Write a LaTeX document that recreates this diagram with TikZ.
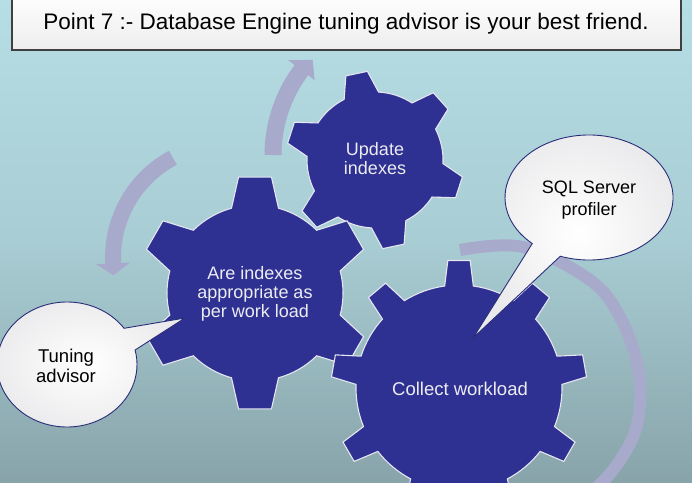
\documentclass[tikz,border=0pt]{standalone}
\usepackage{fontspec}
\setmainfont{Liberation Sans}
\usetikzlibrary{calc}
\definecolor{gearblue}{RGB}{46,49,145}
\definecolor{arrowgray}{RGB}{168,170,204}
\definecolor{bgtop}{RGB}{182,222,229}
\definecolor{bgbot}{RGB}{136,164,170}
\definecolor{calloutline}{RGB}{42,46,120}
\definecolor{geartxt}{RGB}{236,236,242}
\definecolor{callouter}{RGB}{234,234,236}
\newcommand\drawgear[8]{% #1 centre, #2 body r, #3 outer r, #4 step, #5 offset, #6 base half angle, #7 top half angle, #8 last index
  \begin{scope}[shift={(#1)}]
    \path[gearstyle] ({#5-#6}:#2) \foreach \k in {0,...,#8} {
      -- ({#5+#4*\k-#6}:#2) -- ({#5+#4*\k-#7}:#3) -- ({#5+#4*\k+#7}:#3) -- ({#5+#4*\k+#6}:#2)
      arc[start angle={#5+#4*\k+#6}, end angle={#5+#4*(\k+1)-#6}, radius=#2]
    } -- cycle;
  \end{scope}}
\begin{document}
\begin{tikzpicture}[x=1pt,y=1pt,
  gearstyle/.style={fill=gearblue, draw=white!88!gearblue, line width=1.1pt, line join=miter},
  band/.style={draw=arrowgray, line cap=butt},
  headfill/.style={fill=arrowgray},
  callout/.style={draw=calloutline, line width=0.9pt, inner color=white, outer color=callouter},
  geartext/.style={text=geartxt, align=center, inner sep=0pt},
  calltext/.style={text=black, align=center, inner sep=0pt}]
\useasboundingbox (0,0) rectangle (692,482);
\begin{scope}
\clip (0,0) rectangle (692,482);
% background
\shade[top color=bgtop, bottom color=bgbot, middle color=bgtop!70!bgbot] (0,0) rectangle (692,482);
% title box
\path[top color=white, bottom color=black!7, draw=black!75, line width=1.3pt] (12,432) rectangle (681,490);
\node[anchor=base, inner sep=0pt, font=\fontsize{22.5}{26}\selectfont] (title) at (346,452) {Point 7 :- Database Engine tuning advisor is your best friend.};
% centres
\coordinate (g1) at (255,189);
\coordinate (g2) at (375,322);
\coordinate (g3) at (459,94);
\coordinate (ca) at (414,327);
\coordinate (cb) at (226,224.5);
% arrow A
\begin{scope}[shift={(ca)}]
  \draw[band, line width=17pt] (180:141pt) arc[start angle=180, end angle=142.5, radius=141pt];
  \fill[headfill] (143:124.5pt) -- (143:157.5pt) -- (136.8:139pt) -- cycle;
\end{scope}
% arrow B
\begin{scope}[shift={(cb)}]
  \draw[band, line width=16pt] (118:113pt) arc[start angle=118, end angle=183.5, radius=113pt];
  \fill[headfill] (183:96pt) -- (183:130pt) -- (189:114pt) -- cycle;
\end{scope}
% arrow C
\draw[band, line width=12pt] plot[smooth, tension=0.6] coordinates {(460,232) (523,235) (590,202) (620,165) (637,119) (640,79) (633,45) (613,12) (590,-12)};
% gears
\drawgear{g2}{68pt}{89pt}{60}{102}{15}{7.1}{5}
\drawgear{g1}{88pt}{117pt}{60}{90}{15.5}{8.1}{5}
\drawgear{g3}{103pt}{128pt}{40}{90}{8}{5}{8}
% callouts
\coordinate (sqlc) at (589,284.5);
\coordinate (sqltip) at (473,144);
\begin{scope}[shift={(sqlc)}]
  \path[callout] (250:84pt and 62.5pt) arc[start angle=250, end angle=587.5, x radius=84pt, y radius=62.5pt] -- (sqltip) -- cycle;
\end{scope}
\coordinate (tunc) at (67,117.5);
\coordinate (tuntip) at (185,164);
\begin{scope}[shift={(tunc)}]
  \path[callout] (35.4:70pt and 62.5pt) arc[start angle=35.4, end angle=373.4, x radius=70pt, y radius=62.5pt] -- (tuntip) -- cycle;
\end{scope}
% texts
\node[geartext, font=\fontsize{18}{18.7}\selectfont] (t1) at (255,188.3) {Are indexes\\appropriate as\\per work load};
\node[geartext, font=\fontsize{18}{19}\selectfont] (t2) at (375,323.8) {Update\\indexes};
\node[geartext, anchor=base, font=\fontsize{18.5}{20}\selectfont] (t3) at (460,87) {Collect workload};
\node[calltext, font=\fontsize{18}{22}\selectfont] (t4) at (589,281.6) {SQL Server\\profiler};
\node[calltext, font=\fontsize{18.5}{20}\selectfont] (t5) at (66,116.5) {Tuning\\advisor};
\end{scope}
\end{tikzpicture}
\end{document}
